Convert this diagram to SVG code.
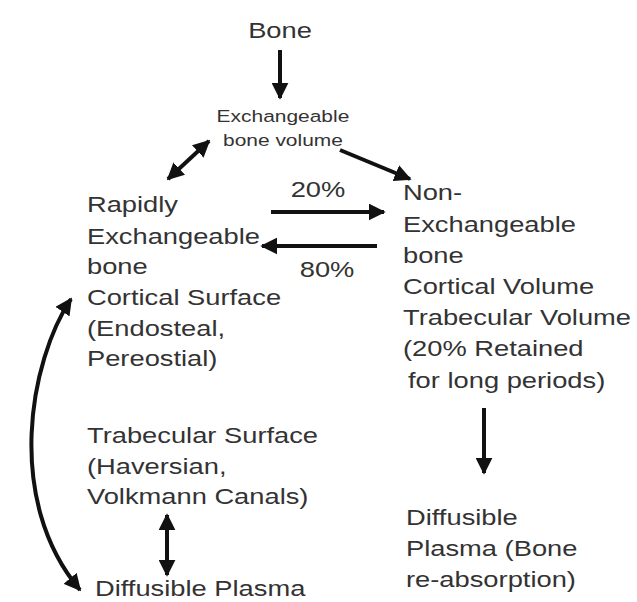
<svg xmlns="http://www.w3.org/2000/svg" width="637" height="602" viewBox="0 0 637 602">
<style>
text{font-family:"Liberation Sans",Arial,sans-serif;fill:#333;}
.big{font-size:21.5px;}
.sm{font-size:16.5px;}
.ln{stroke:#111;stroke-width:4;fill:none;}
</style>
<defs>
<marker id="ah" viewBox="0 0 10 10" refX="9" refY="5" markerWidth="17" markerHeight="17" markerUnits="userSpaceOnUse" orient="auto-start-reverse">
<path d="M0,0 L10,5 L0,10 z" fill="#111"/>
</marker>
</defs>
<rect width="637" height="602" fill="#fff"/>
<g id="connectors">
<line class="ln" x1="280" y1="50" x2="280" y2="98" marker-end="url(#ah)"/>
<line class="ln" x1="168" y1="179" x2="209" y2="141" marker-start="url(#ah)" marker-end="url(#ah)"/>
<line class="ln" x1="340" y1="150" x2="410" y2="179" marker-end="url(#ah)"/>
<line class="ln" x1="271" y1="212" x2="384" y2="212" marker-end="url(#ah)"/>
<line class="ln" x1="377" y1="246" x2="262" y2="246" marker-end="url(#ah)"/>
<line class="ln" x1="484" y1="408" x2="484" y2="473" marker-end="url(#ah)"/>
<line class="ln" x1="167" y1="515" x2="167" y2="575" marker-start="url(#ah)" marker-end="url(#ah)"/>
<path class="ln" d="M71,299 C30,360 4,500 80,590" marker-start="url(#ah)" marker-end="url(#ah)"/>
<text class="big" transform="scale(1.27,1)" x="250.4" y="197" text-anchor="middle">20%</text>
<text class="big" transform="scale(1.27,1)" x="257.5" y="277" text-anchor="middle">80%</text>
</g>
<g id="bone" transform="scale(1.27,1)">
<text class="big" x="220.5" y="38" text-anchor="middle">Bone</text>
</g>
<g id="exchangeable" transform="scale(1.27,1)">
<text class="sm" x="222.8" y="122" text-anchor="middle">Exchangeable</text>
<text class="sm" x="222.8" y="146" text-anchor="middle">bone volume</text>
</g>
<g id="rapidly" transform="scale(1.27,1)">
<text class="big" x="68.5" y="212">Rapidly</text>
<text class="big" x="68.5" y="244">Exchangeable</text>
<text class="big" x="68.5" y="274">bone</text>
<text class="big" x="68.5" y="305">Cortical Surface</text>
<text class="big" x="68.5" y="336">(Endosteal,</text>
<text class="big" x="68.5" y="366">Pereostial)</text>
</g>
<g id="nonexchangeable" transform="scale(1.27,1)">
<text class="big" x="317.3" y="200">Non-</text>
<text class="big" x="317.3" y="232">Exchangeable</text>
<text class="big" x="317.3" y="263">bone</text>
<text class="big" x="317.3" y="294">Cortical Volume</text>
<text class="big" x="317.3" y="325">Trabecular Volume</text>
<text class="big" x="317.3" y="356">(20% Retained</text>
<text class="big" x="321.3" y="388">for long periods)</text>
</g>
<g id="trabecular" transform="scale(1.27,1)">
<text class="big" x="68.5" y="443">Trabecular Surface</text>
<text class="big" x="68.5" y="474">(Haversian,</text>
<text class="big" x="68.5" y="504">Volkmann Canals)</text>
</g>
<g id="diffusible-left" transform="scale(1.27,1)">
<text class="big" x="74.8" y="596">Diffusible Plasma</text>
</g>
<g id="diffusible-right" transform="scale(1.27,1)">
<text class="big" x="319.7" y="525">Diffusible</text>
<text class="big" x="319.7" y="556">Plasma (Bone</text>
<text class="big" x="319.7" y="587">re-absorption)</text>
</g>
</svg>
